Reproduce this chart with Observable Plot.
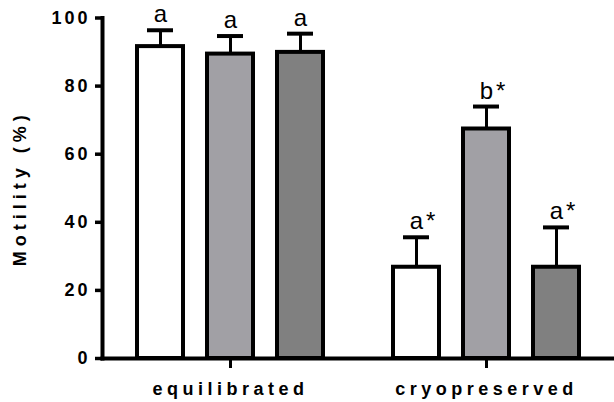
<!DOCTYPE html>
<html>
<head>
<meta charset="utf-8">
<script src="https://cdn.jsdelivr.net/npm/d3@7"></script>
<script src="https://cdn.jsdelivr.net/npm/@observablehq/plot@0.6"></script>
<style>
  body { margin: 0; background: #fff; }
  #chart svg { display: block; }
  g[aria-label="y-axis tick label"] text { letter-spacing: 3px; }
  g[aria-label="fx-axis tick label"] text { letter-spacing: 4.5px; }
</style>
</head>
<body>
<div id="chart"></div>
<script>
// Sperm motility (%) after equilibration and after cryopreservation, three extenders each
const conditions = ["equilibrated", "cryopreserved"];
const extenders = ["extender A", "extender B", "extender C"];
const extenderFills = ["#ffffff", "#a1a0a5", "#808080"];

// mean motility per extender, one array per condition
const equilibratedMean = [91.6, 89.4, 89.9];
const cryopreservedMean = [26.8, 67.4, 26.8];
// upper end of the error bar (mean + SD)
const equilibratedUpper = [96.4, 94.7, 95.4];
const cryopreservedUpper = [35.6, 74.0, 38.5];
// significance letters and the asterisk marking a difference from equilibrated
const equilibratedLetters = ["a", "a", "a"];
const cryopreservedLetters = ["a", "b", "a"];
const equilibratedStars = ["", "", ""];
const cryopreservedStars = ["*", "*", "*"];

const yTicks = [0, 20, 40, 60, 80, 100];
const yTitle = "Motility (%)";

const means = [equilibratedMean, cryopreservedMean];
const uppers = [equilibratedUpper, cryopreservedUpper];
const letters = [equilibratedLetters, cryopreservedLetters];
const stars = [equilibratedStars, cryopreservedStars];

const rows = conditions.flatMap((condition, i) =>
  extenders.map((extender, j) => ({
    condition,
    extender,
    motility: means[i][j],
    upper: uppers[i][j],
    letter: letters[i][j],
    star: stars[i][j]
  }))
);

const font = "'Liberation Sans', Arial, Helvetica, sans-serif";

const chart = Plot.plot({
  width: 614,
  height: 402,
  marginLeft: 102,
  marginRight: 0,
  marginTop: 17.5,
  marginBottom: 44,
  style: { fontFamily: font, background: "#fff", color: "#000" },
  fx: { domain: conditions, padding: 0 },
  x: { domain: extenders, paddingInner: 0.343, paddingOuter: 0.5, axis: null },
  y: { domain: [0, 100] },
  color: { domain: extenders, range: extenderFills },
  marks: [
    Plot.barY(rows, {
      fx: "condition", x: "extender", y: "motility",
      fill: "extender", stroke: "#000", strokeWidth: 4
    }),
    Plot.ruleX(rows, {
      fx: "condition", x: "extender", y1: "motility", y2: "upper",
      stroke: "#000", strokeWidth: 3
    }),
    Plot.tickY(rows, {
      fx: "condition", x: "extender", y: "upper",
      stroke: "#000", strokeWidth: 4, inset: 10
    }),
    Plot.text(rows, {
      fx: "condition", x: "extender", y: "upper", text: "letter",
      lineAnchor: "bottom", dy: -8, fontSize: 24, fill: "#000"
    }),
    Plot.text(rows, {
      fx: "condition", x: "extender", y: "upper", text: "star",
      lineAnchor: "bottom", textAnchor: "start", dx: 9.5, dy: -8, fontSize: 24, fill: "#000"
    }),
    // axis lines drawn once across the whole plotting area
    Plot.frame({ anchor: "bottom", stroke: "#000", strokeWidth: 4, strokeLinecap: "square", facet: "super" }),
    Plot.frame({ anchor: "left", stroke: "#000", strokeWidth: 4, strokeLinecap: "square", facet: "super" }),
    Plot.axisY({
      ticks: yTicks, tickSize: 7, tickPadding: 5, strokeWidth: 3.5,
      fontSize: 18, fontWeight: "bold", label: null
    }),
    Plot.text([yTitle], {
      frameAnchor: "left", textAnchor: "middle", lineAnchor: "middle",
      rotate: -90, dx: -82, facet: "super",
      fontSize: 18, fontWeight: "bold", fill: "#000"
    }),
    Plot.axisFx({
      anchor: "bottom", tickSize: 10, tickPadding: 14, strokeWidth: 3,
      fontSize: 18, fontWeight: "bold", label: null
    })
  ]
});

// spaced-out lettering of the y-axis title
d3.select(chart).selectAll("text")
  .filter(function () { return this.textContent === yTitle; })
  .style("letter-spacing", "5px");

document.getElementById("chart").appendChild(chart);
</script>
</body>
</html>
